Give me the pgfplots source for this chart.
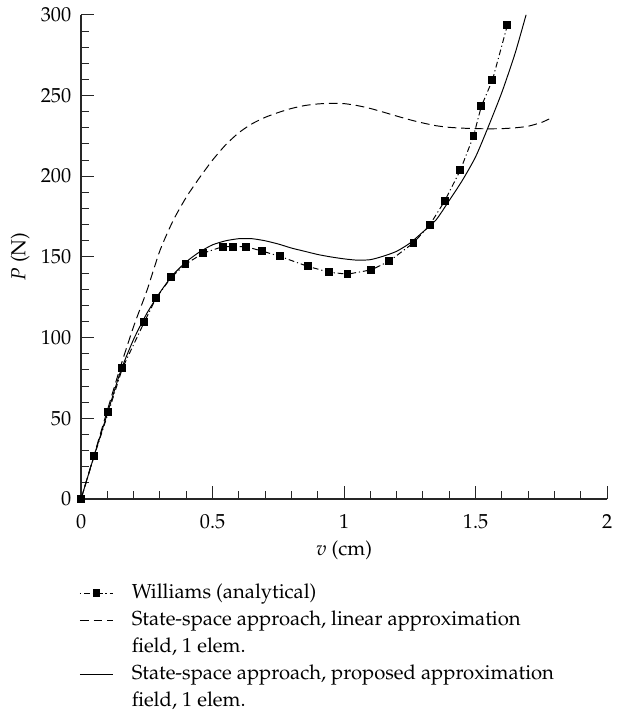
\documentclass[border=0pt]{standalone}
\usepackage[T1]{fontenc}
\usepackage{mathpazo}
\usepackage{pgfplots}
\pgfplotsset{compat=1.18}

\begin{document}
\begin{tikzpicture}[font=\fontsize{10.5pt}{13pt}\selectfont]
\begin{axis}[
  scale only axis,
  width=272.5pt, height=250.8pt,
  xmin=0, xmax=2, ymin=0, ymax=300,
  axis lines=left,
  axis line style={-, line width=0.6pt, black!85},
  xtick={0,0.5,...,2}, ytick={0,50,...,300},
  minor x tick num=4, minor y tick num=4,
  tick align=inside,
  major tick length=6.5pt, minor tick length=4pt,
  tick style={line width=0.5pt, black!85},
  xticklabel style={yshift=-4.5pt},
  yticklabel style={xshift=-1.6pt},
  xlabel={$v$ (cm)}, ylabel={$P$ (N)},
  xlabel style={at={(axis description cs:0.5,-0.105)}, anchor=center},
  ylabel style={at={(axis description cs:-0.116,0.5)}, anchor=center},
  legend style={at={(axis description cs:-0.0037,-0.1663)}, anchor=north west,
    draw=none, fill=none, inner sep=0pt, row sep=0pt, column sep=7.5pt,
    nodes={inner sep=2pt, text height=7.5pt, text depth=2.5pt}},
  legend cell align=left,
  clip=false,
]
% State-space, linear approximation field
\addplot[forget plot, black, line width=0.5pt, dash pattern=on 4.5pt off 2.5pt, smooth, tension=0.4] coordinates {
  (0,0) (0.05,27.5) (0.1,55) (0.15,82) (0.2,107) (0.25,129) (0.3,154)
  (0.35,172.5) (0.4,187) (0.45,199) (0.5,210) (0.55,219.5) (0.6,227)
  (0.65,232.5) (0.7,236.5) (0.75,239.5) (0.8,242) (0.85,243.8) (0.9,244.8)
  (0.95,245.2) (1.0,245) (1.05,243.8) (1.1,242) (1.15,239.7) (1.2,237.3)
  (1.25,235) (1.3,233) (1.35,231.3) (1.4,230.3) (1.45,229.8) (1.5,229.5)
  (1.55,229.4) (1.6,229.5) (1.65,230) (1.7,231) (1.75,233.3) (1.78,235.5)
};
% State-space, proposed approximation field
\addplot[forget plot, black, line width=0.5pt, smooth, tension=0.4] coordinates {
  (0,0) (0.05,27) (0.1,53) (0.15,79) (0.2,99) (0.25,115) (0.3,128)
  (0.35,139) (0.4,147) (0.45,153) (0.5,157.5) (0.55,160) (0.6,161.3)
  (0.65,161.3) (0.7,160) (0.75,158) (0.8,155.5) (0.85,153.5) (0.9,151.5)
  (0.95,150) (1.0,148.8) (1.05,148) (1.1,148.3) (1.15,150.5) (1.2,153.5)
  (1.25,158.5) (1.3,165.5) (1.35,173) (1.4,185) (1.45,197.5) (1.5,212)
  (1.546,229.7) (1.6,252) (1.65,276) (1.692,300)
};
% Williams (analytical)
\addplot[forget plot, black, line width=0.5pt, dash pattern=on 3pt off 1.5pt on 0.6pt off 1.5pt,
  mark=square*, mark size=1.8pt, mark options={solid}] coordinates {
  (0,0) (0.05,26.7) (0.104,53.7) (0.157,81) (0.24,109.5) (0.285,124.4)
  (0.343,137.4) (0.397,145.5) (0.464,152.3) (0.539,156.4) (0.579,156.4)
  (0.626,156.4) (0.687,153.7) (0.755,150.4) (0.861,144.2) (0.944,140.5)
  (1.013,139.3) (1.104,142) (1.171,147.3) (1.264,158.7) (1.325,169.6)
  (1.382,184.5) (1.442,203.7) (1.492,224.8) (1.522,243.4) (1.564,259.5)
  (1.621,293.6)
};
\addlegendimage{black, line width=0.5pt, dash pattern=on 0.6pt off 1.5pt on 3pt off 1.5pt,
  mark=square*, mark size=1.8pt, mark options={solid}}
\addlegendentry{Williams (analytical)}
\addlegendimage{black, line width=0.5pt, dash pattern=on 4.5pt off 2.5pt}
\addlegendentry{State-space approach, linear approximation}
\addlegendimage{empty legend}
\addlegendentry{field, 1 elem.}
\addlegendimage{black, line width=0.5pt}
\addlegendentry{State-space approach, proposed approximation}
\addlegendimage{empty legend}
\addlegendentry{field, 1 elem.}
\end{axis}
\path (-42pt,-111.9pt) rectangle (275.6pt,258.5pt);
\end{tikzpicture}
\end{document}
